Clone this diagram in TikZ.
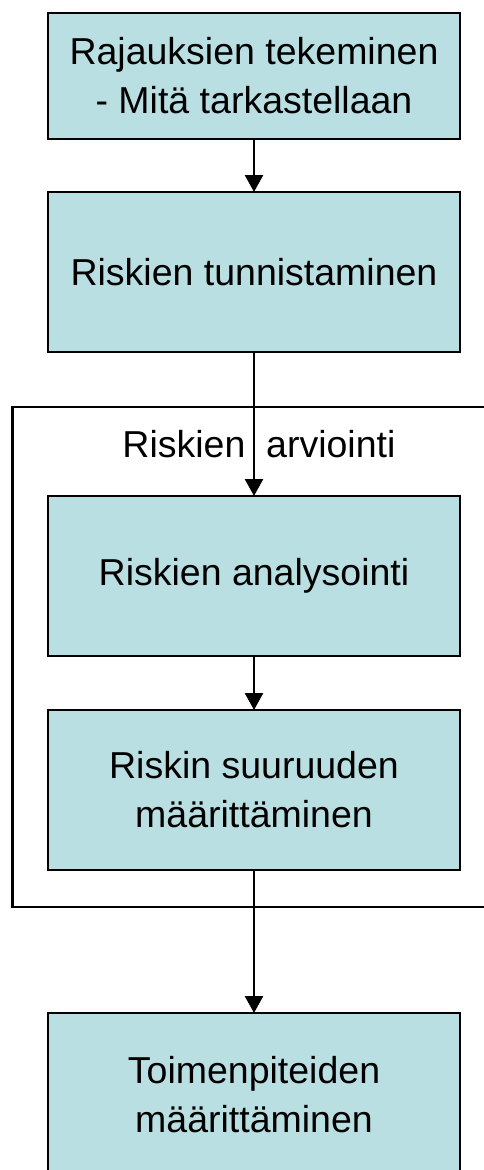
\documentclass[tikz,border=0pt]{standalone}
\usepackage{fontspec}
\setmainfont{Liberation Sans}
\usepackage{xcolor}
\usepackage{tikz}
\usetikzlibrary{arrows.meta,positioning}
\definecolor{boxfill}{RGB}{185,223,226}

\begin{document}
\begin{tikzpicture}[x=1pt, y=1pt, line width=2.6pt,
  stage/.style = {draw, fill=boxfill, outer sep=0pt, minimum width=412pt, minimum height=160pt, align=center, font=\fontsize{37.5}{49}\selectfont},
  flow/.style = {-{Triangle[width=18pt,length=17pt]}}]
\useasboundingbox (0,0) rectangle (484,-1170);
\node[stage, minimum height=126pt] (r1) at (254,-76) {Rajauksien tekeminen\\- Mitä tarkastellaan};
\node[stage] (r2) [below=53pt of r1] {Riskien tunnistaminen};
\node[stage] (r3) [below=144pt of r2] {Riskien analysointi};
\node[stage] (r4) [below=54pt of r3] {Riskin suuruuden\\ määrittäminen};
\node[stage, minimum height=164pt] (r5) [below=143pt of r4] {Toimenpiteiden\\ määrittäminen};
% riskien arviointi -kehys
\draw (484,-407) -- (12.7,-407) -- (12.7,-907) -- (484,-907);
\node[anchor=base, font=\fontsize{37.5}{49}\selectfont] (arv) at (259,-457) {Riskien~ arviointi};
\draw[flow] (r1) -- (r2);
\draw[flow] (r2) -- (r3);
\draw[flow] (r3) -- (r4);
\draw[flow] (r4) -- (r5);
\end{tikzpicture}
\end{document}
